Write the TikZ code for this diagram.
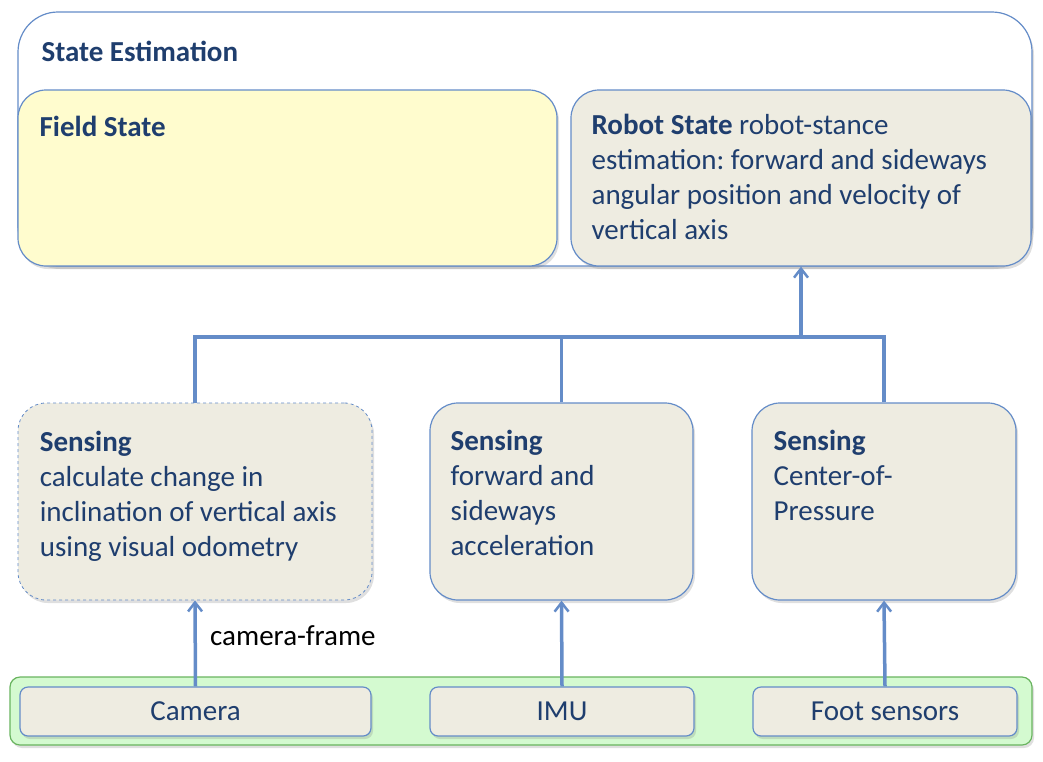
\documentclass[tikz,border=0pt]{standalone}
\usepackage{fontspec}
\setmainfont{Carlito}
\frenchspacing
\usetikzlibrary{arrows.meta,shadows}
\definecolor{lineblue}{RGB}{100,140,200}
\definecolor{textblue}{RGB}{31,62,110}
\definecolor{fieldyellow}{RGB}{255,252,206}
\definecolor{boxgrey}{RGB}{238,236,225}
\definecolor{sensorgreen}{RGB}{212,250,208}
\definecolor{greenline}{RGB}{105,180,95}
\tikzset{
  shade box/.style={draw=lineblue,line width=1.2pt,
    drop shadow={shadow xshift=2pt,shadow yshift=-3pt,opacity=0.25}},
  statebox/.style={shade box,rounded corners=28pt,minimum height=176pt},
  sensebox/.style={shade box,fill=boxgrey,rounded corners=28pt,minimum height=197pt},
  devbox/.style={shade box,fill=boxgrey,rounded corners=8pt,minimum height=49pt,
    text=textblue,font=\fontsize{29}{35}\selectfont},
  boxtext/.style={anchor=north west,inner sep=0pt,align=left,text=textblue,
    font=\fontsize{29}{35}\selectfont},
  link/.style={draw=lineblue,line width=3.5pt},
  feed/.style={link,-{Straight Barb[length=9pt,width=14pt,line width=2.5pt]}}
}
\begin{document}
\begin{tikzpicture}[x=1pt,y=-1pt]
  \useasboundingbox (0,0) rectangle (1043,761);
  % state estimation
  \node[shade box,fill=white,rounded corners=40pt,minimum width=1014pt,minimum height=254pt] (est) at (525,139) {};
  \node[boxtext] at ([shift={(24,30)}]est.north west) {\textbf{State Estimation}};
  \node[statebox,fill=fieldyellow,minimum width=539pt] (field) at (287.5,178) {};
  \node[boxtext] at ([shift={(22,27)}]field.north west) {\textbf{Field State}};
  \node[statebox,fill=boxgrey,minimum width=460pt] (robot) at (801,178) {};
  \node[boxtext] at ([shift={(21,25)}]robot.north west) {\textbf{Robot State} robot-stance\\estimation: forward and sideways\\angular position and velocity of\\vertical axis};
  % sensing
  \node[sensebox,dashed,line width=0.8pt,minimum width=354pt] (vision) at (195,501.5) {};
  \node[boxtext] at ([shift={(22,28)}]vision.north west) {\textbf{Sensing}\\calculate change in\\inclination of vertical axis\\using visual odometry};
  \node[sensebox,minimum width=263pt] (accel) at (561.5,501.5) {};
  \node[boxtext] at ([shift={(21,28)}]accel.north west) {\textbf{Sensing}\\forward and\\sideways\\acceleration};
  \node[sensebox,minimum width=264pt] (pressure) at (884,501.5) {};
  \node[boxtext] at ([shift={(22,28)}]pressure.north west) {\textbf{Sensing}\\Center-of-\\Pressure};
  % sensors
  \node[shade box,draw=greenline,fill=sensorgreen,rounded corners=10pt,minimum width=1022pt,minimum height=68pt] (sensors) at (521,711) {};
  \node[devbox,minimum width=351pt] (camera) at (195.5,711.5) {Camera};
  \node[devbox,minimum width=264pt] (imu) at (562,711.5) {IMU};
  \node[devbox,minimum width=264pt] (foot) at (885,711.5) {Foot sensors};
  % connectors
  \draw[feed] (camera.north) -- (vision.south);
  \draw[feed] (imu.north) -- (accel.south);
  \draw[feed] (foot.north) -- (pressure.south);
  \node[anchor=base west,inner sep=0pt,font=\fontsize{29}{35}\selectfont] (framelabel) at (210,645) {camera-frame};
  \coordinate (join) at (801,337);
  \draw[link] (vision.north) |- (join);
  \draw[link] (accel.north) |- (join);
  \draw[link] (pressure.north) |- (join);
  \draw[feed] (join) -- (robot.south);
\end{tikzpicture}
\end{document}
